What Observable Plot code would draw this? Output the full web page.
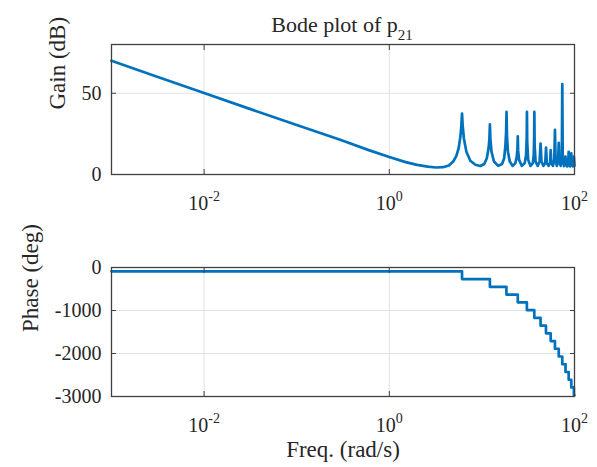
<!DOCTYPE html>
<html>
<head>
<meta charset="utf-8">
<script src="https://cdn.jsdelivr.net/npm/d3@7"></script>
<script src="https://cdn.jsdelivr.net/npm/@observablehq/plot@0.6"></script>
<style>
  html, body { margin: 0; padding: 0; background: #fff; }
  #wrap { position: relative; width: 597px; height: 467px; overflow: hidden; font-family: "Liberation Serif", "Times New Roman", serif; color: #262626; }
  #wrap svg, #wrap svg text { font-family: "Liberation Serif", "Times New Roman", serif !important; }
  #title { position: absolute; left: 0; width: 684px; top: 14px; text-align: center; font-size: 22px; line-height: 22px; white-space: nowrap; }
  #title .sub { font-size: 15px; position: relative; top: 8px; }
  #gain { position: absolute; left: 0; top: 0; }
  #phase { position: absolute; left: 0; top: 230px; }
</style>
</head>
<body>
<div id="wrap">
  <div id="gain"></div>
  <div id="phase"></div>
  <div id="title">Bode plot of p<span class="sub">21</span></div>
</div>
<script>
// ---- data ----
const xDomain = [1e-3, 1e2];
const xTicks = [1e-2, 1, 1e2];
const xGrid = [1e-2, 1];

const gainDomain = [0, 80];
const gainTicks = [0, 50];
const phaseDomain = [-3000, 0];
const phaseTicks = [0, -1000, -2000, -3000];

// Gain (dB) vs frequency (rad/s)
const gainFreq = [
  0.001, 0.003, 0.01, 0.03, 0.1, 0.3, 0.6, 1, 1.5, 2, 2.6, 3.2, 3.8, 4.4, 4.9, 5.3, 5.6, 5.85, 6.0, 6.1,
  6.2, 6.4, 6.8, 7.5, 8.5, 9.6, 10.6, 11.3, 11.8, 12.05, 12.2, 12.35, 12.7, 13.5, 15, 16.5, 17.4, 17.95,
  18.25, 18.45, 18.65, 19.1, 20, 21.5, 23, 23.8, 24.2, 24.4, 24.6, 25.2, 27, 29, 30, 30.45, 30.65, 30.85,
  31.6, 33.5, 35.5, 36.3, 36.65, 36.85, 37.1, 38, 40, 42, 43, 44, 46.2, 48.3, 49.3, 50.3, 52.5, 54.5,
  55.3, 56.3, 58.5, 60.5, 61.5, 62.5, 64.5, 66.5, 67.6, 68.7, 71, 73, 73.8, 74.6, 77, 79, 80, 81, 83.5,
  85.5, 86.5, 87.5, 89.5, 91, 92.3, 93.5, 96, 97.5, 98.5, 100
];
const gainDb = [
  70, 60.5, 50.2, 40.7, 30.5, 21.2, 15, 10.8, 7.6, 5.9, 4.8, 4.3, 4.5, 5.5, 8, 11.5, 16, 23, 30, 37.5,
  30, 22, 14, 8.5, 6, 5.2, 6.5, 10, 16, 22, 30.8, 22, 14, 8, 5.3, 6.5, 10, 18,
  26, 38.5, 24, 14, 8, 5.3, 7, 11, 16, 23.5, 15, 9, 5.3, 7, 12, 22, 38.5, 20,
  9, 5.3, 7, 12, 22, 38.5, 18, 8, 5.3, 8, 19, 8, 5.3, 7, 16.5, 7, 5.3, 7,
  15, 7, 5.3, 9, 27.5, 9, 5.3, 8, 19.5, 8, 5.3, 12, 55.7, 12, 5.2, 7, 11, 6, 5,
  7, 14, 7, 5, 7, 13, 6, 5, 7, 11, 5.5
];

// Phase (deg): level reached after each resonance
const phaseFreq = [0.001, 6.1, 12.2, 18.4, 24.4, 30.6, 36.8, 43.0, 49.2, 55.3, 61.5, 67.6, 73.8, 80, 86.5, 92.3, 98.5, 100];
const phaseDeg = [-90, -270, -450, -630, -810, -990, -1170, -1350, -1530, -1710, -1890, -2070, -2250, -2430, -2610, -2790, -2970, -2970];

// ---- styling ----
const blue = "#0072BD";
const frameColor = "#404040";
const gridColor = "#e2e2e2";
const serif = "Liberation Serif";
const baseStyle = {fontFamily: serif, fontSize: "20px", color: "#262626", background: "white", overflow: "visible"};
const supFmt = d => "10^" + Math.round(Math.log10(d));
const plain = d => String(d);
const blank = () => "";

const gainPlot = Plot.plot({
  width: 597, height: 230,
  marginLeft: 111, marginRight: 23, marginTop: 44, marginBottom: 56,
  style: baseStyle,
  x: {type: "log", domain: xDomain},
  y: {domain: gainDomain},
  marks: [
    Plot.gridX(xGrid, {stroke: gridColor, strokeOpacity: 1}),
    Plot.gridY(gainTicks.filter(d => d > gainDomain[0] && d < gainDomain[1]), {stroke: gridColor, strokeOpacity: 1}),
    Plot.line(gainDb, {x: gainFreq, y: gainDb, stroke: blue, strokeWidth: 2.7, strokeLinejoin: "round"}),
    Plot.frame({stroke: frameColor, strokeWidth: 1.3}),
    Plot.axisX(xTicks, {anchor: "bottom", tickSize: -5, tickPadding: 26, tickFormat: supFmt, stroke: frameColor, label: null, fontFamily: serif}),
    Plot.axisX(xTicks, {anchor: "top", tickSize: -5, tickFormat: blank, stroke: frameColor, label: null}),
    Plot.axisY(gainTicks, {anchor: "left", tickSize: -5, tickPadding: 15, tickFormat: plain, stroke: frameColor, label: null, fontFamily: serif}),
    Plot.axisY(gainTicks, {anchor: "right", tickSize: -5, tickFormat: blank, stroke: frameColor, label: null}),
    Plot.text(["Gain (dB)"], {frameAnchor: "left", rotate: -90, dx: -54, fontSize: 23, fontFamily: serif, fill: "#262626"})
  ]
});

const phasePlot = Plot.plot({
  width: 597, height: 237,
  marginLeft: 111, marginRight: 23, marginTop: 37, marginBottom: 71,
  style: baseStyle,
  x: {type: "log", domain: xDomain},
  y: {domain: phaseDomain},
  marks: [
    Plot.gridX(xGrid, {stroke: gridColor, strokeOpacity: 1}),
    Plot.gridY(phaseTicks.filter(d => d > phaseDomain[0] && d < phaseDomain[1]), {stroke: gridColor, strokeOpacity: 1}),
    Plot.line(phaseDeg, {x: phaseFreq, y: phaseDeg, curve: "step-after", stroke: blue, strokeWidth: 2.7, strokeLinejoin: "round"}),
    Plot.frame({stroke: frameColor, strokeWidth: 1.3}),
    Plot.axisX(xTicks, {anchor: "bottom", tickSize: -5, tickPadding: 26, tickFormat: supFmt, stroke: frameColor, label: null, fontFamily: serif}),
    Plot.axisX(xTicks, {anchor: "top", tickSize: -5, tickFormat: blank, stroke: frameColor, label: null}),
    Plot.axisY(phaseTicks, {anchor: "left", tickSize: -5, tickPadding: 15, tickFormat: plain, stroke: frameColor, label: null, fontFamily: serif}),
    Plot.axisY(phaseTicks, {anchor: "right", tickSize: -5, tickFormat: blank, stroke: frameColor, label: null}),
    Plot.text(["Phase (deg)"], {frameAnchor: "left", rotate: -90, dx: -81, fontSize: 23, fontFamily: serif, fill: "#262626"}),
    Plot.text(["Freq. (rad/s)"], {frameAnchor: "bottom", lineAnchor: "middle", dy: 53, fontSize: 23, fontFamily: serif, fill: "#262626"})
  ]
});

// turn "10^k" tick labels into superscripted text; force serif font on all texts
function finish(svg) {
  svg.style.fontFamily = "Liberation Serif";
  svg.querySelectorAll("g, text").forEach(el => {
    el.removeAttribute("font-family");
    el.style.fontFamily = "Liberation Serif";
  });
  svg.querySelectorAll("text").forEach(t => {
    t.setAttribute("font-family", "Liberation Serif");
    const m = /^10\^(-?\d+)$/.exec(t.textContent);
    if (!m) return;
    t.textContent = "10";
    const s = document.createElementNS("http://www.w3.org/2000/svg", "tspan");
    s.setAttribute("font-size", "14");
    s.setAttribute("dy", "-9");
    s.textContent = m[1];
    t.appendChild(s);
  });
}
finish(gainPlot);
finish(phasePlot);

document.getElementById("gain").appendChild(gainPlot);
document.getElementById("phase").appendChild(phasePlot);
</script>
</body>
</html>
